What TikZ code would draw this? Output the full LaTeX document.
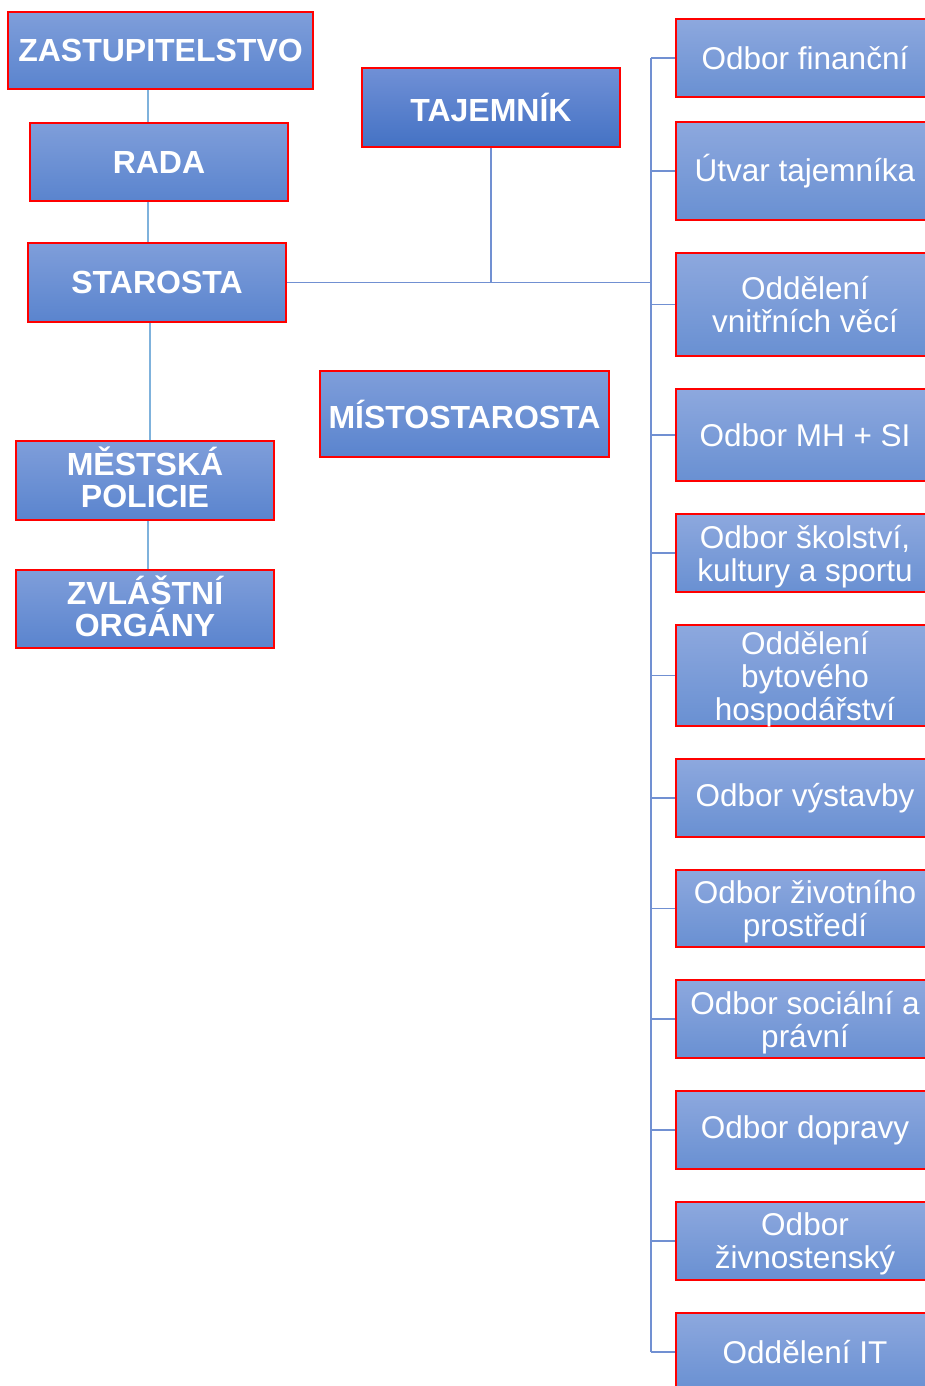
\documentclass[tikz,border=0pt]{standalone}
\usepackage{fontspec}
\setmainfont{Liberation Sans}
\newcommand{\capht}[1]{\raisebox{0pt}[0.72em][0pt]{#1}}
\newcommand{\nodepth}[1]{\raisebox{0pt}[\height][0pt]{#1}}
\begin{document}
\begin{tikzpicture}[x=1pt,y=-1pt,
  box/.style={draw=red, line width=1.6pt, rectangle, inner sep=0pt, align=center,
     text=white, minimum width=258pt, minimum height=78pt},
  lbox/.style={box, top color=leftTop, bottom color=leftBot,
     font=\fontsize{32}{32}\selectfont\bfseries},
  tbox/.style={box, top color=tajTop, bottom color=tajBot,
     font=\fontsize{32}{32}\selectfont\bfseries},
  rbox/.style={box, top color=rightTop, bottom color=rightBot,
     font=\fontsize{31.5}{33}\selectfont},
  lconn/.style={draw=lineLight, line width=1.3pt},
  bconn/.style={draw=lineBus, line width=1.5pt}
]
\definecolor{leftTop}{HTML}{7F9EDA}
\definecolor{leftBot}{HTML}{5A84CE}
\definecolor{tajTop}{HTML}{7090D6}
\definecolor{tajBot}{HTML}{4472C4}
\definecolor{rightTop}{HTML}{8DA8DE}
\definecolor{rightBot}{HTML}{6990D2}
\definecolor{lineLight}{HTML}{7FB2DC}
\definecolor{lineBus}{HTML}{7190D2}
\useasboundingbox (0,0) rectangle (924,1386);

% left column
\node[lbox, minimum width=305pt, minimum height=77pt] (zast) at (160.5,50.5) {ZASTUPITELSTVO};
\node[lbox] (rada) at (159,162) {RADA};
\node[lbox, minimum height=79pt] (star) at (157,282.5) {STAROSTA};
\node[lbox, minimum height=79pt] (mest) at (145,480.5) {\capht{MĚSTSKÁ}\\POLICIE};
\node[lbox] (zvl) at (145,609) {\capht{ZVLÁŠTNÍ}\\ORGÁNY};
\node[tbox, minimum height=79pt] (taj) at (491,107.5) {TAJEMNÍK};
\node[lbox, minimum width=289pt, minimum height=86pt] (mist) at (464.5,414) {MÍSTOSTAROSTA};

% right column
\node[rbox] (r1) at (805,58) {Odbor finanční};
\node[rbox, minimum height=98pt] (r2) at (805,171) {Útvar tajemníka};
\node[rbox, minimum height=103pt] (r3) at (805,304.5) {Oddělení\\vnitřních věcí};
\node[rbox, minimum height=92pt] (r4) at (805,435) {Odbor MH + SI};
\node[rbox] (r5) at (805,553) {Odbor školství,\\\nodepth{kultury a sportu}};
\node[rbox, minimum height=101pt] (r6) at (805,675.5) {Oddělení\\bytového\\\nodepth{hospodářství}};
\node[rbox] (r7) at (805,798) {Odbor výstavby};
\node[rbox, minimum height=77pt] (r8) at (805,908.5) {Odbor životního\\\nodepth{prostředí}};
\node[rbox] (r9) at (805,1019) {Odbor sociální a\\\nodepth{právní}};
\node[rbox] (r10) at (805,1130) {Odbor dopravy};
\node[rbox] (r11) at (805,1241) {Odbor\\\nodepth{živnostenský}};
\node[rbox] (r12) at (805,1352) {Oddělení IT};

% left connectors
\coordinate (vx) at (148,0);
\coordinate (vy) at (150,0);
\draw[lconn] (zast.south -| vx) -- (rada.north -| vx);
\draw[lconn] (rada.south -| vx) -- (star.north -| vx);
\draw[lconn] (star.south -| vy) -- (mest.north -| vy);
\draw[lconn] (mest.south -| vx) -- (zvl.north -| vx);

% bus
\coordinate (bus) at (651,0);
\draw[bconn] (star.east) -- (star.east -| bus);
\draw[bconn] (taj.south) -- (taj.south |- star.east);
\draw[bconn] (r1.west -| bus) -- (r12.west -| bus);
\foreach \r in {r1,r2,r3,r4,r5,r6,r7,r8,r9,r10,r11,r12}
  \draw[bconn] (\r.west -| bus) -- (\r.west);
\end{tikzpicture}
\end{document}
